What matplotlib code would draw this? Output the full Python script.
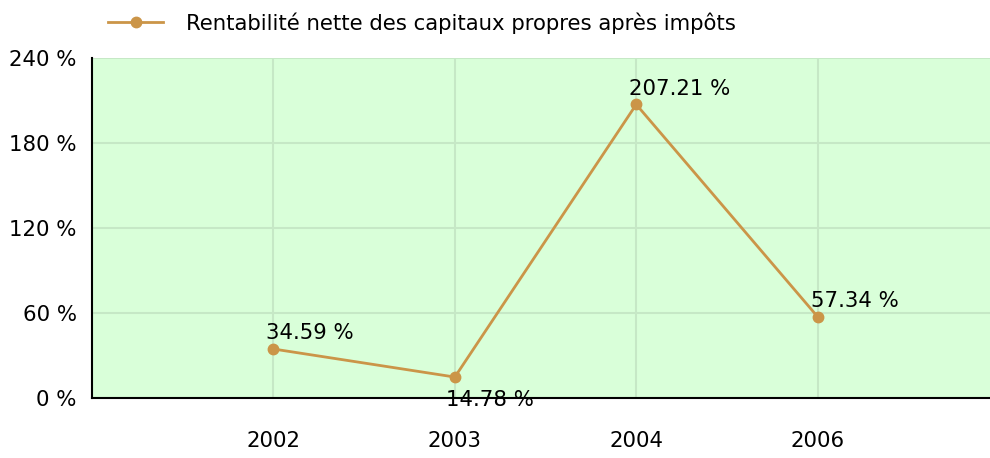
import matplotlib
matplotlib.use("Agg")
from matplotlib import pyplot as plt

years = ["2002", "2003", "2004", "2006"]
values = [34.59, 14.78, 207.21, 57.34]
value_labels = ["34.59 %", "14.78 %", "207.21 %", "57.34 %"]
label_below = [False, True, False, False]
y_ticks = [0, 60, 120, 180, 240]
y_tick_labels = ["0 %", "60 %", "120 %", "180 %", "240 %"]
series_name = "Rentabilité nette des capitaux propres après impôts"

line_color = "#CB9548"
bg_color = "#D9FFD9"
grid_color = "#C6E8C6"
fs = 15.3

fig = plt.figure(figsize=(9.9, 4.58), dpi=100)
ax = fig.add_axes([92 / 990, 1 - 398 / 458, 898 / 990, 340 / 458])
ax.set_facecolor(bg_color)

x = list(range(len(years)))
line, = ax.plot(x, values, color=line_color, linewidth=2, marker="o", markersize=7.5,
                label=series_name, zorder=3)

for xi, v, lab, below in zip(x, values, value_labels, label_below):
    if below:
        ax.annotate(lab, (xi, v), xytext=(-6, -9), textcoords="offset points",
                    ha="left", va="top", fontsize=fs)
    else:
        ax.annotate(lab, (xi, v), xytext=(-5, 4), textcoords="offset points",
                    ha="left", va="bottom", fontsize=fs)

ax.set_xlim(-1, 3.95)
ax.set_ylim(0, 240)
ax.set_xticks(x)
ax.set_xticklabels(years, fontsize=fs)
ax.set_yticks(y_ticks)
ax.set_yticklabels(y_tick_labels, fontsize=fs)
ax.tick_params(axis="x", length=0, pad=24)
ax.tick_params(axis="y", length=0, pad=11)
ax.grid(True, color=grid_color, linewidth=1.5)
ax.set_axisbelow(True)

for side in ["top", "right"]:
    ax.spines[side].set_visible(False)
for side in ["left", "bottom"]:
    ax.spines[side].set_linewidth(1.5)
    ax.spines[side].set_color("black")

fig.legend(handles=[line], loc="upper left", bbox_to_anchor=(89 / 990, 1.015),
           frameon=False, fontsize=fs, handlelength=2.6, handletextpad=1.05)

fig.savefig("out.png", dpi=100)
